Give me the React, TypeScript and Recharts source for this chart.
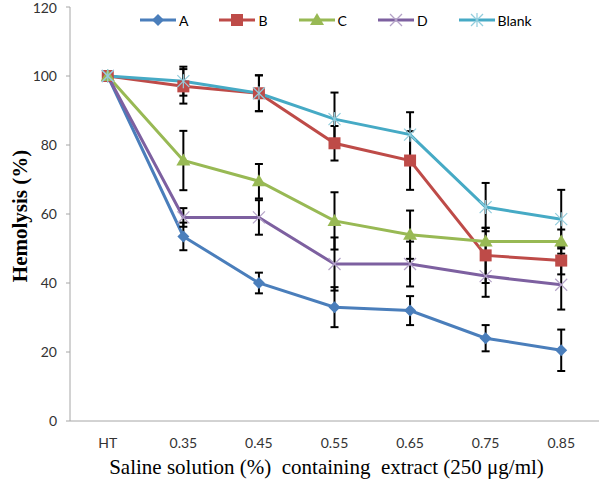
import React from "react";
import { LineChart, Line, XAxis, YAxis, ErrorBar } from "recharts";

const categories = ["HT", "0.35", "0.45", "0.55", "0.65", "0.75", "0.85"];

const valuesA = [100, 53.5, 40, 33, 32, 24, 20.5];
const errorsA = [null, 4, 3, 5.8, 4.2, 3.8, 6];
const valuesB = [100, 97, 95, 80.5, 75.5, 48, 46.5];
const errorsB = [null, 5, 5.2, 5, 8.5, 8, 4];
const valuesC = [100, 75.5, 69.5, 58, 54, 52, 52];
const errorsC = [null, 8.6, 5, 8.3, 7, 4, 3.5];
const valuesD = [100, 59, 59, 45.5, 45.5, 42, 39.5];
const errorsD = [null, 2.7, 5, 7.7, 6.5, 6, 7.2];
const valuesBlank = [100, 98.5, 95, 87.5, 83, 62, 58.5];
const errorsBlank = [null, 4.2, 5.2, 7.7, 6.5, 7, 8.5];

const yTicks = [0, 20, 40, 60, 80, 100, 120];

type MarkerKind = "diamond" | "square" | "triangle" | "x" | "star";

const series: { key: string; color: string; markerColor: string; marker: MarkerKind; values: number[]; errors: (number | null)[] }[] = [
  { key: "A", color: "#4A7EBB", markerColor: "#4A7EBB", marker: "diamond", values: valuesA, errors: errorsA },
  { key: "B", color: "#BE4B48", markerColor: "#BE4B48", marker: "square", values: valuesB, errors: errorsB },
  { key: "C", color: "#98B954", markerColor: "#98B954", marker: "triangle", values: valuesC, errors: errorsC },
  { key: "D", color: "#7D60A0", markerColor: "#B3A2C7", marker: "x", values: valuesD, errors: errorsD },
  { key: "Blank", color: "#46AAC5", markerColor: "#93CDDD", marker: "star", values: valuesBlank, errors: errorsBlank },
];

const data = categories.map((label, i) => {
  const row: Record<string, any> = { pos: i + 0.5, label };
  series.forEach((s) => {
    row[s.key] = s.values[i];
    row[s.key + "_err"] = s.errors[i];
  });
  return row;
});

function Marker({ kind, color, cx, cy }: { kind: MarkerKind; color: string; cx: number; cy: number }) {
  const r = 6;
  if (kind === "diamond") {
    return <path d={`M${cx},${cy - r} L${cx + r},${cy} L${cx},${cy + r} L${cx - r},${cy} Z`} fill={color} />;
  }
  if (kind === "square") {
    return <rect x={cx - 6} y={cy - 6} width={12} height={12} fill={color} />;
  }
  if (kind === "triangle") {
    return <path d={`M${cx},${cy - 7} L${cx + 7},${cy + 5} L${cx - 7},${cy + 5} Z`} fill={color} />;
  }
  if (kind === "x") {
    return (
      <g stroke={color} strokeWidth={1.2}>
        <line x1={cx - 6} y1={cy - 6} x2={cx + 6} y2={cy + 6} />
        <line x1={cx - 6} y1={cy + 6} x2={cx + 6} y2={cy - 6} />
      </g>
    );
  }
  return (
    <g stroke={color} strokeWidth={1.2}>
      <line x1={cx - 6} y1={cy - 6} x2={cx + 6} y2={cy + 6} />
      <line x1={cx - 6} y1={cy + 6} x2={cx + 6} y2={cy - 6} />
      <line x1={cx} y1={cy - 7} x2={cx} y2={cy + 7} />
    </g>
  );
}

const tickFont = { fontFamily: "Lato, 'Open Sans', sans-serif", fontSize: 14, fill: "#333" };

function YLabel(props: any) {
  const vb = props.viewBox;
  const cx = 20;
  const cy = vb.y + vb.height / 2 + 2;
  return (
    <text x={cx} y={cy} transform={`rotate(-90, ${cx}, ${cy})`} textAnchor="middle" dominantBaseline="central"
      style={{ fontFamily: "'Liberation Serif', 'Times New Roman', serif", fontWeight: "bold", fontSize: 21, fill: "#000" }}>
      Hemolysis (%)
    </text>
  );
}

function XLabel(props: any) {
  const vb = props.viewBox;
  return (
    <text x={vb.x + vb.width / 2 - 8} y={vb.y + vb.height - 2} textAnchor="middle"
      style={{ fontFamily: "'Liberation Serif', 'Times New Roman', serif", fontSize: 21, fill: "#000", whiteSpace: "pre" }}>
      {"Saline solution (%)  containing  extract (250 μg/ml)"}
    </text>
  );
}

function LegendBox() {
  return (
    <div style={{ position: "absolute", left: 140, top: 11, display: "flex", alignItems: "center", fontFamily: "Lato, sans-serif", fontSize: 14, color: "#000" }}>
      {series.map((s) => (
        <div key={s.key} style={{ display: "flex", alignItems: "center", marginRight: 31 }}>
          <svg width={36} height={18}>
            <line x1={0} y1={9} x2={36} y2={9} stroke={s.color} strokeWidth={3} />
            <Marker kind={s.marker} color={s.markerColor} cx={18} cy={9} />
          </svg>
          <span style={{ marginLeft: 3 }}>{s.key}</span>
        </div>
      ))}
    </div>
  );
}

export default function App() {
  return (
    <div style={{ position: "absolute", left: 0, top: 0, width: 600, height: 483, background: "#fff" }}>
      <LineChart width={600} height={483} data={data} margin={{ top: 7, right: 1, bottom: 7, left: 0 }}>
        <YAxis
          type="number"
          domain={[0, 120]}
          ticks={yTicks}
          width={70}
          tickSize={4}
          tickMargin={9}
          stroke="#A6A6A6"
          tick={tickFont}
          label={<YLabel />}
        />
        <XAxis
          xAxisId={0}
          type="number"
          dataKey="pos"
          domain={[0, 7]}
          ticks={[0, 1, 2, 3, 4, 5, 6, 7]}
          tick={false}
          tickSize={5}
          height={5}
          stroke="#A6A6A6"
        />
        <XAxis
          xAxisId={1}
          type="number"
          dataKey="pos"
          domain={[0, 7]}
          ticks={[0.5, 1.5, 2.5, 3.5, 4.5, 5.5, 6.5]}
          tickFormatter={(v: number) => categories[Math.floor(v)]}
          axisLine={false}
          tickLine={false}
          tickSize={8}
          tickMargin={4}
          height={50}
          tick={tickFont}
          label={<XLabel />}
        />
        {series.map((s) => (
          <Line
            key={s.key}
            xAxisId={0}
            dataKey={s.key}
            stroke={s.color}
            strokeWidth={3}
            isAnimationActive={false}
            dot={(p: any) => <Marker key={`${s.key}-${p.index}`} kind={s.marker} color={s.markerColor} cx={p.cx} cy={p.cy} />}
            activeDot={false}
          >
            <ErrorBar dataKey={s.key + "_err"} width={4} stroke="#000" strokeWidth={2} direction="y" isAnimationActive={false} />
          </Line>
        ))}
      </LineChart>
      <LegendBox />
    </div>
  );
}
